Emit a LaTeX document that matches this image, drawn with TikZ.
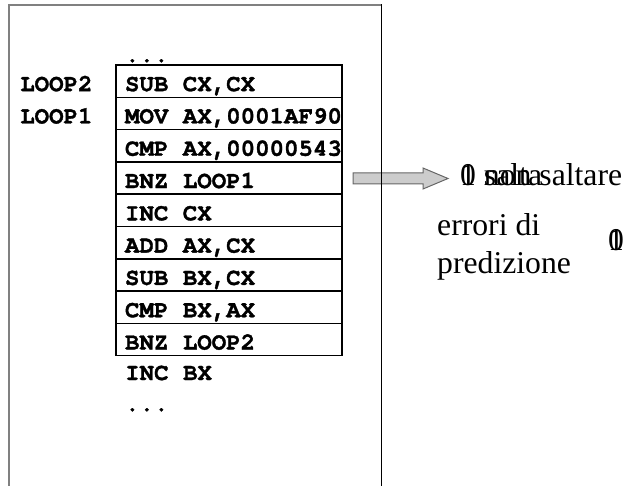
\documentclass[tikz,border=0pt]{standalone}
\usepackage{fontspec}
\setmainfont{Liberation Serif}
\newfontfamily\codefont{texgyrecursor}[Extension=.otf, UprightFont=*-bold, BoldFont=*-bold, FakeBold=1.3]
\usetikzlibrary{positioning}
% one instruction, left-aligned in a fixed-width box
\newcommand\insline[1]{\makebox[208pt][l]{#1}}
\begin{document}
\begin{tikzpicture}[x=1pt,y=-1pt,
  code/.style={font=\codefont\fontsize{24.1}{28}\selectfont, inner sep=0pt},
  instr/.style={code, draw, line width=1.5pt, outer sep=0pt,
    minimum width=226pt, minimum height=32.3pt,
    inner xsep=9pt, text height=20pt, text depth=0pt},
  note/.style={font=\fontsize{31.7}{38}\selectfont, inner sep=0pt},
  frameline/.style={draw=black!50, line width=1.6pt},
  bigarrow/.style={draw=black!60, fill=black!20, line width=1pt, line join=miter}]
\useasboundingbox (0,0) rectangle (626,486);

% instruction listing
\node[code, anchor=base west] (dtop) at (125,62) {...};
\node[instr, anchor=north west] (r1) at (116,65) {\insline{SUB CX,CX}};
\node[instr, below=0pt of r1] (r2) {\insline{MOV AX,0001AF90}};
\node[instr, below=0pt of r2] (r3) {\insline{CMP AX,00000543}};
\node[instr, below=0pt of r3] (r4) {\insline{BNZ LOOP1}};
\node[instr, below=0pt of r4] (r5) {\insline{INC CX}};
\node[instr, below=0pt of r5] (r6) {\insline{ADD AX,CX}};
\node[instr, below=0pt of r6] (r7) {\insline{SUB BX,CX}};
\node[instr, below=0pt of r7] (r8) {\insline{CMP BX,AX}};
\node[instr, below=0pt of r8] (r9) {\insline{BNZ LOOP2}};
\node[code, anchor=base west] (incbx) at (125,380) {INC BX};
\node[code, anchor=base west] (dbot) at (125,411) {...};

% loop labels
\coordinate (lx) at (20,0);
\node[code, anchor=base west] (loop2) at (r1.base -| lx) {LOOP2};
\node[code, anchor=base west] (loop1) at (r2.base -| lx) {LOOP1};

% branch outcome arrow
\path[bigarrow] (353,173) -- (423,173) -- (423,168) -- (448,178.5)
  -- (423,189) -- (423,184) -- (353,184) -- cycle;

% memory frame
\draw[frameline] (9,486) -- (9,5) -- (381,5);
\draw[black, line width=0.9pt] (381,4.2) -- (381,486);

% outcome and prediction errors
\node[note, anchor=base west] (out0) at (460,186) {0 salta};
\node[note, anchor=base west] (out1) at (460,186) {1 non saltare};
\node[note, anchor=base west] (err1) at (437,236) {errori di};
\node[note, anchor=base west] (err2) at (437,273) {predizione};
\node[note, anchor=base west] (cnt0) at (608,251) {0};
\node[note, anchor=base west] (cnt1) at (608,251) {1};
\end{tikzpicture}
\end{document}
